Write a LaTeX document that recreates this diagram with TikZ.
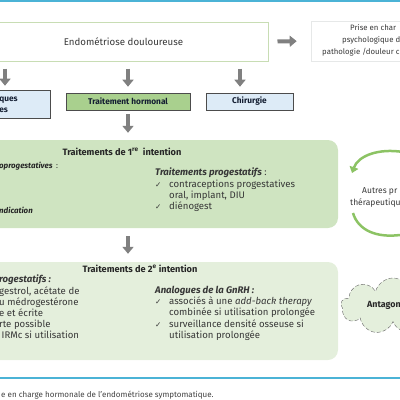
\documentclass[tikz,border=0pt]{standalone}
\usepackage{fontspec}
\setmainfont{Fira Sans}
\newfontfamily\symfont{DejaVu Sans}
\usetikzlibrary{arrows.meta,shapes.symbols}

\definecolor{cyanline}{RGB}{75,179,214}
\definecolor{arrowgray}{RGB}{128,128,128}
\definecolor{endoline}{RGB}{200,221,180}
\definecolor{priseline}{RGB}{230,232,232}
\definecolor{greenA}{RGB}{207,228,193}
\definecolor{greenB}{RGB}{228,239,220}
\definecolor{greenbtn}{RGB}{169,208,142}
\definecolor{bluebtn}{RGB}{221,235,247}
\definecolor{cyclegreen}{RGB}{140,195,100}
\definecolor{bodytext}{RGB}{55,55,55}
\definecolor{navytext}{RGB}{20,30,50}

\newcommand{\chk}{\makebox[14pt][l]{{\symfont\fontsize{7.5}{9}\selectfont\char"2713}}}
\newcommand{\ind}{\hspace*{14pt}}

\tikzset{
	garrow/.style={draw=arrowgray, line width=4pt, -{Triangle[width=11pt,length=7pt]}},
	cyclearrow/.style={draw=cyclegreen, line width=2.5pt},
	btn/.style={draw=black!70, line width=0.6pt, minimum height=17pt, inner sep=0pt, font=\fontsize{8.3}{9}\selectfont\bfseries, text=navytext},
	bigbox/.style={rounded corners=10pt, inner sep=0pt},
	body/.style={anchor=north west, align=left, inner sep=0pt, font=\fontsize{9.6}{11.2}\selectfont, text=bodytext},
	titletext/.style={inner sep=0pt, font=\fontsize{9.2}{10}\selectfont\bfseries, text=black!85},
	frag/.style={anchor=west, inner sep=0pt, font=\fontsize{7.8}{9}\selectfont, text=bodytext},
}

\begin{document}
\begin{tikzpicture}[x=1pt,y=-1pt]
	\useasboundingbox (0,0) rectangle (400,400);
	\clip (0,0) rectangle (400,400);

	\draw[cyanline, line width=1.5pt] (-5,1) -- (405,1);
	\draw[cyanline, line width=1.5pt] (-5,378) -- (405,378);

	% top row
	\node[draw=endoline, line width=1pt, minimum width=289pt, minimum height=39pt, font=\fontsize{9.7}{11}\selectfont, text=bodytext] (endo) at (123.5,41.5) {Endométriose douloureuse};
	\node[draw=priseline, line width=0.6pt, minimum width=130pt, minimum height=40pt] (prise) at (376,41) {};
	\node[frag] (prise1) at (350,28) {Prise en char};
	\node[frag] (prise2) at (342,40) {psychologique d};
	\node[frag] (prise3) at (322,52) {pathologie /douleur c};
	\draw[garrow, shorten <=9pt, shorten >=14pt] (endo.east) -- (prise.west);

	% second row
	\node[btn, fill=bluebtn, minimum width=90pt, minimum height=28pt] (antalg) at (5,104) {};
	\node[btn, anchor=west, draw=none, align=left, font=\fontsize{8.3}{11}\selectfont\bfseries] (antalgtx) at (-1,104.5) {ques\\es};
	\node[btn, fill=greenbtn, minimum width=124pt] (hormonal) at (128,101.5) {Traitement hormonal};
	\node[btn, fill=bluebtn, minimum width=87pt] (chir) at (249.5,101.5) {Chirurgie};
	\draw[garrow, shorten <=7pt, shorten >=4pt] (endo.south -| antalg.north) -- (antalg.north);
	\draw[garrow, shorten <=7pt, shorten >=6pt] (endo.south -| hormonal.north) -- (hormonal.north);
	\draw[garrow, shorten <=7pt, shorten >=6pt] (endo.south -| 240,0) -- ([xshift=-9.5pt]chir.north);

	% 1re intention
	\node[bigbox, fill=greenA, minimum width=348pt, minimum height=88pt] (int1) at (164,184) {};
	\draw[garrow, shorten <=4pt, shorten >=7pt] (hormonal.south) -- (hormonal.south |- int1.north);
	\node[titletext] (title1) at (122,152) {Traitements de 1\textsuperscript{re}\ \ intention};
	\node[frag, font=\fontsize{7.9}{9}\selectfont\bfseries\itshape, text=black!85] (left1a) at (-1,166) {oprogestatives\ \ \upshape\mdseries :};
	\node[frag, font=\fontsize{7.9}{9}\selectfont\bfseries\itshape, text=black!85] (left1b) at (-1,210) {ndication};
	\node[body] (right1) at (155,168) {\textbf{\textit{Traitements progestatifs}} :\\
		\chk contraceptions progestatives\\
		\ind oral, implant, DIU\\
		\chk diénogest};

	% autres
	\draw[cyclearrow, -{Triangle[width=9pt,length=6pt]}] (403,152) .. controls (378,148) and (358,156) .. (352,173);
	\draw[cyclearrow] (353,213) .. controls (358,230) and (376,238) .. (400,235);
	\node[frag, font=\fontsize{8.5}{9}\selectfont] (autres1) at (362,191) {Autres pr};
	\node[frag, font=\fontsize{8.5}{9}\selectfont] (autres2) at (350,203) {thérapeutiqu};

	% 2e intention
	\node[bigbox, fill=greenB, minimum width=348pt, minimum height=98pt] (int2) at (164,311) {};
	\draw[garrow, shorten <=8pt, shorten >=8pt] (int1.south -| hormonal.south) -- (int2.north -| hormonal.south);
	\node[titletext] (title2) at (140,269) {Traitements de 2\textsuperscript{e} intention};
	\node[body] (left2) at (-1,275) {\textbf{\textit{rogestatifs :}}\\
		gestrol, acétate de\\
		u médrogestérone\\
		e et écrite\\
		rte possible\\
		\ IRMc si utilisation};
	\node[body] (right2) at (155,286) {\textbf{\textit{Analogues de la GnRH :}}\\
		\chk associés à une \textit{add-back therapy}\\
		\ind combinée si utilisation prolongée\\
		\chk surveillance densité osseuse si\\
		\ind utilisation prolongée};

	% antagonistes
	\node[cloud, cloud puffs=9, aspect=1.6, draw=black!60, dash pattern=on 4pt off 2pt, fill=greenB, minimum width=104pt, minimum height=56pt] (antag) at (393,306) {};
	\node[frag, font=\fontsize{8.9}{9}\selectfont\bfseries, text=black!85] (antagtx) at (367,305) {Antagon};

	\node[frag, font=\fontsize{8}{9}\selectfont, text=black!75] (caption) at (1,395) {e en charge hormonale de l’endométriose symptomatique.};
\end{tikzpicture}
\end{document}
